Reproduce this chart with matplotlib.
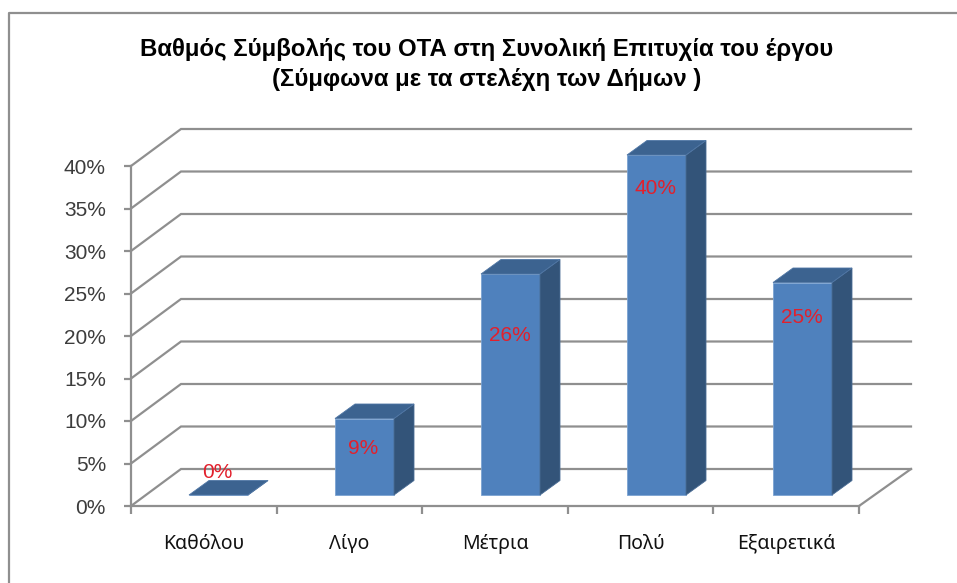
import matplotlib
matplotlib.use("Agg")
import matplotlib.pyplot as plt
from matplotlib.lines import Line2D
from matplotlib.patches import Polygon

categories = ["Καθόλου", "Λίγο", "Μέτρια", "Πολύ", "Εξαιρετικά"]
values = [0, 9, 26, 40, 25]
value_labels = ["0%", "9%", "26%", "40%", "25%"]
y_ticks = [0, 5, 10, 15, 20, 25, 30, 35, 40]
title = "Βαθμός Σύμβολής του ΟΤΑ στη Συνολική Επιτυχία του έργου\n(Σύμφωνα με τα στελέχη των Δήμων )"

# layout / style (not data)
W, H = 957, 583
GRAY = "#8f8f8f"
TEXT = "#3c3c3c"
UX, UY = 145.6, 8.5               # pixels per category, pixels per percent
wall_dx, wall_dy = 50 / UX, 37 / UY
right_extra = 2 / UX
bar_pitch = 146 / UX
bar_dx0, bar_dy0 = 14.7 / UX, 11 / UY
bar_w = 59 / UX
depth_dx, depth_dy = 20 / UX, 14.5 / UY
label_off_px = [22, -29.5, -61, -33, -35]

fig = plt.figure(figsize=(W / 100, H / 100), dpi=100, facecolor="white")
ax = fig.add_axes([131 / W, (H - 506) / H, 728 / W, 340 / H])
ax.set_xlim(-0.5, 4.5)
ax.set_ylim(0, 40)
ax.patch.set_visible(False)
for s in ("top", "right"):
    ax.spines[s].set_visible(False)
for s in ("left", "bottom"):
    ax.spines[s].set_color(GRAY)
    ax.spines[s].set_linewidth(1.6)

ax.set_yticks(y_ticks)
ax.set_yticklabels([f"{v}%" for v in y_ticks], fontfamily="Liberation Sans",
                   fontsize=15, color=TEXT)
ax.tick_params(axis="y", length=5, width=1.6, color=GRAY, pad=13)

ax.set_xticks([i - 0.5 for i in range(len(categories) + 1)])
ax.set_xticklabels([])
ax.set_xticks(range(len(categories)), categories, minor=True,
              fontfamily="Noto Sans", fontsize=14, color="#111111")
ax.tick_params(axis="x", which="major", length=5.5, width=1.6, color=GRAY)
ax.tick_params(axis="x", which="minor", length=0, pad=20.5)

x0, x1 = ax.get_xlim()
for v in y_ticks:
    ax.plot([x0, x0 + wall_dx, x1 + wall_dx + right_extra], [v, v + wall_dy, v + wall_dy],
            color=GRAY, lw=1.6, clip_on=False, zorder=1, solid_joinstyle="miter")
ax.plot([x1, x1 + wall_dx + right_extra], [0, wall_dy], color=GRAY, lw=1.6, clip_on=False, zorder=1)

for i, (v, lab, off) in enumerate(zip(values, value_labels, label_off_px)):
    l = i * bar_pitch + bar_dx0 - bar_w / 2
    r = l + bar_w
    b = bar_dy0
    t = b + v
    kw = dict(clip_on=False, zorder=3, linewidth=0.6)
    ax.add_patch(Polygon([(l, b), (r, b), (r, t), (l, t)], facecolor="#4f81bd",
                         edgecolor="#7ba3d2", **kw))
    ax.add_patch(Polygon([(r, b), (r + depth_dx, b + depth_dy), (r + depth_dx, t + depth_dy), (r, t)],
                         facecolor="#335479", edgecolor="#4a6c94", **kw))
    ax.add_patch(Polygon([(l, t), (r, t), (r + depth_dx, t + depth_dy), (l + depth_dx, t + depth_dy)],
                         facecolor="#3c6390", edgecolor="#4f76a5", **kw))
    ax.annotate(lab, xy=((l + r) / 2, t), xytext=(-0.7, off * 0.72), textcoords="offset points",
                ha="center", va="center", fontfamily="Liberation Sans", fontsize=15,
                color="#e2202c", zorder=4, annotation_clip=False)

fig.text(487 / W, 1 - 64.5 / H, title, ha="center", va="center", fontfamily="Liberation Sans",
         fontweight="bold", fontsize=17.3, color="black", linespacing=1.36)

fig.add_artist(Line2D([8.5 / W, 8.5 / W, 1], [0, 1 - 12.5 / H, 1 - 12.5 / H], color=GRAY, lw=1.6))

fig.savefig("out.png", dpi=100, facecolor="white")
